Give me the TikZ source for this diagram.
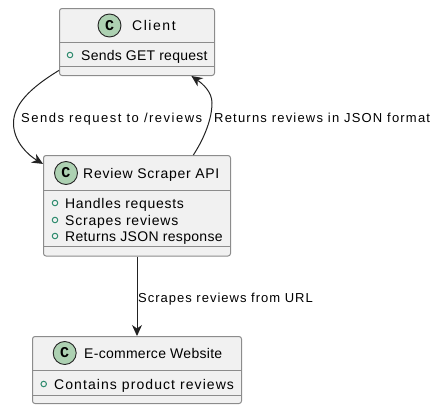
\documentclass[tikz,border=0pt]{standalone}
\usepackage{fontspec}
\setmainfont{Liberation Sans}
\setmonofont{Liberation Mono}
\usetikzlibrary{arrows.meta}
\newcommand{\spacedtext}[2]{{\addfontfeature{LetterSpace=#1}#2}}
\definecolor{boxfill}{HTML}{F1F1F1}
\definecolor{boxline}{HTML}{8C8C8C}
\definecolor{spotfill}{HTML}{ADD1B2}
\definecolor{memgreen}{HTML}{2E8B6E}
\definecolor{wire}{HTML}{222222}
\tikzset{
  x=1pt,y=-1pt,
  classbox/.style={draw=boxline,fill=boxfill,line width=1pt,rounded corners=2.5pt,inner sep=0pt,anchor=north west},
  spot/.style={circle,draw=black!85,fill=spotfill,line width=0.9pt,minimum size=23pt,inner sep=0pt,font=\bfseries\ttfamily\fontsize{15}{15}\selectfont},
  titletext/.style={anchor=base west,inner sep=0pt,font=\fontsize{14}{14}\selectfont},
  membertext/.style={anchor=base west,inner sep=0pt,font=\fontsize{14}{14}\selectfont},
  edgetext/.style={anchor=base west,inner sep=0pt,font=\fontsize{13}{13}\selectfont},
  memberdot/.style={circle,draw=memgreen,line width=1pt,minimum size=5.5pt,inner sep=0pt},
  divider/.style={draw=boxline,line width=1pt},
  wireline/.style={draw=wire,line width=1pt,-{Stealth[length=11pt,width=10pt,inset=3.5pt]}},
}
\begin{document}
\begin{tikzpicture}
\useasboundingbox (0,0) rectangle (439,410);
% Client
\node[classbox,minimum width=155pt,minimum height=67pt] (client) at (59,8) {};
\draw[divider] (59,42) -- (214,42) (59,66) -- (214,66);
\node[spot] (cspot) at (109.5,25.5) {C};
\node[titletext] (ctitle) at (132,30) {\spacedtext{11}{Client}};
\node[memberdot] (cdot) at (70,55) {};
\node[membertext] (cm) at (81,60) {\spacedtext{1.7}{Sends GET request}};
% API
\node[classbox,minimum width=187pt,minimum height=100.5pt] (api) at (43,155) {};
\draw[divider] (43,190) -- (230,190) (43,246.5) -- (230,246.5);
\node[spot] (aspot) at (66,173) {C};
\node[titletext] (atitle) at (83,178) {\spacedtext{5.2}{Review Scraper API}};
\node[memberdot] (ad1) at (55,203) {};
\node[memberdot] (ad2) at (55,220) {};
\node[memberdot] (ad3) at (55,236) {};
\node[membertext] (am1) at (65,208) {\spacedtext{5}{Handles requests}};
\node[membertext] (am2) at (65,225) {\spacedtext{5.7}{Scrapes reviews}};
\node[membertext] (am3) at (65,241) {\spacedtext{2.3}{Returns JSON response}};
% Shop
\node[classbox,minimum width=209pt,minimum height=67pt] (shop) at (32,336) {};
\draw[divider] (32,370) -- (241,370) (32,395) -- (241,395);
\node[spot] (sspot) at (64.7,353) {C};
\node[titletext] (stitle) at (84,358) {\spacedtext{2}{E-commerce Website}};
\node[memberdot] (sdot) at (43.7,384) {};
\node[membertext] (sm) at (54,389) {\spacedtext{7.7}{Contains product reviews}};
% Edges
\draw[wireline] (client.200.6) .. controls (30,88) and (13,105) .. (13.5,124) .. controls (14,142) and (28,155) .. (api.156);
\draw[wireline] (api.42.7) .. controls (205,137) and (212,118) .. (212,103) .. controls (212,92) and (203,84) .. (client.328.9);
\draw[wireline] (api.south) -- (shop.north);
\node[edgetext] (l1) at (21,122) {\spacedtext{11.5}{Sends request to /reviews}};
\node[edgetext] (l2) at (214,122) {\spacedtext{9.3}{Returns reviews in JSON format}};
\node[edgetext] (l3) at (138,302) {\spacedtext{7.7}{Scrapes reviews from URL}};
\end{tikzpicture}
\end{document}
